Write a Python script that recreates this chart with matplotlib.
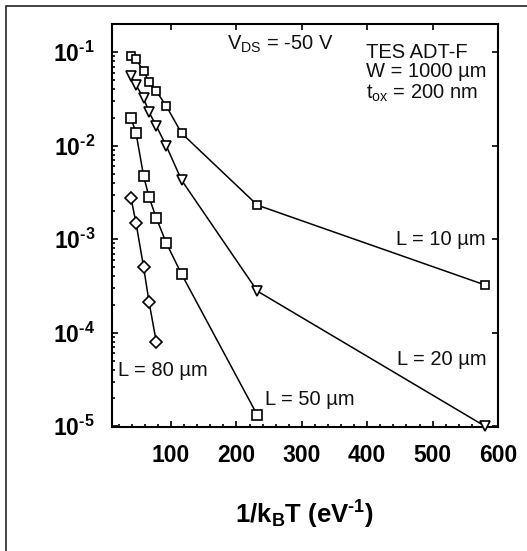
import matplotlib
matplotlib.use("Agg")
import math
import matplotlib.pyplot as plt
from matplotlib.ticker import FixedLocator, MultipleLocator, LogLocator, FuncFormatter, NullFormatter
from matplotlib.patches import Rectangle

# ---- data ----
x_all = [38.7, 46.4, 58.0, 66.3, 77.4, 92.8, 116.0, 232.0, 580.0]
L10_x = x_all
L10_y = [0.0906, 0.084, 0.0626, 0.0478, 0.0383, 0.0264, 0.0136, 0.00231, 0.000324]
L20_x = x_all
L20_y = [0.0553, 0.0444, 0.0322, 0.0228, 0.0162, 0.00989, 0.00428, 0.000278, 1.0e-5]
L50_x = x_all[:8]
L50_y = [0.0197, 0.0136, 0.00472, 0.00281, 0.00168, 0.000906, 0.000423, 1.31e-5]
L80_x = x_all[:5]
L80_y = [0.00275, 0.00148, 0.000501, 0.000212, 7.94e-5]
x_ticks = [100, 200, 300, 400, 500, 600]
y_ticks = [1e-1, 1e-2, 1e-3, 1e-4, 1e-5]

HY = '\u2010'  # short hyphen for exponents

plt.rcParams['font.family'] = ['Liberation Sans', 'DejaVu Sans']
plt.rcParams['mathtext.fontset'] = 'custom'
plt.rcParams['mathtext.rm'] = 'Liberation Sans'
plt.rcParams['mathtext.it'] = 'Liberation Sans:italic'
plt.rcParams['mathtext.bf'] = 'Liberation Sans:bold'

fig = plt.figure(figsize=(5.27, 5.51), dpi=100)
W, H = 527, 551
ax = fig.add_axes([111.6 / W, 1 - 427 / H, (498 - 111.6) / W, (427 - 24) / H])

# figure frame
fig.patches.append(Rectangle((6 / W, -0.05), 1.2, 1 - 6 / H + 0.05, transform=fig.transFigure,
                             fill=False, edgecolor='#222222', linewidth=1.2))

lw = 1.1
ax.plot(L10_x, L10_y, '-s', color='black', lw=lw, ms=5.8, mfc='white', mec='black', mew=1.2, clip_on=False, zorder=3)
ax.plot(L20_x, L20_y, '-v', color='black', lw=lw, ms=7.5, mfc='white', mec='black', mew=1.2, clip_on=False, zorder=3)
ax.plot(L50_x, L50_y, '-s', color='black', lw=lw, ms=7.5, mfc='white', mec='black', mew=1.2, clip_on=False, zorder=3)
ax.plot(L80_x, L80_y, '-D', color='black', lw=lw, ms=6.0, mfc='white', mec='black', mew=1.2, clip_on=False, zorder=3)

ax.set_yscale('log')
ax.set_xlim(9, 600)
ax.set_ylim(9.8e-6, 0.2)

ax.xaxis.set_major_locator(FixedLocator(x_ticks))
ax.xaxis.set_minor_locator(MultipleLocator(20))
ax.yaxis.set_major_locator(FixedLocator(y_ticks))
ax.yaxis.set_minor_locator(LogLocator(base=10, subs=range(2, 10)))
ax.yaxis.set_minor_formatter(NullFormatter())

def yfmt(v, pos):
    e = int(round(math.log10(v)))
    return r'$\mathbf{10^{%s%d}}$' % (HY, abs(e))
ax.yaxis.set_major_formatter(FuncFormatter(yfmt))

for s in ax.spines.values():
    s.set_linewidth(1.5)

ax.tick_params(which='both', direction='in', top=True, right=True, width=1.2)
ax.tick_params(which='major', length=4.5)
ax.tick_params(which='minor', length=2.5, top=False, right=False)
ax.tick_params(axis='x', which='major', pad=12, labelsize=16.5)
ax.tick_params(axis='y', which='major', pad=12, labelsize=16.5)
for lab in ax.get_xticklabels():
    lab.set_fontweight('bold')

ax.set_xlabel(r'$\mathbf{1/k_{B}T\ (eV^{%s1})}$' % HY, fontsize=18.5, labelpad=23)

tk = dict(fontsize=14.5, family=['Liberation Sans', 'DejaVu Sans'], color='#111111')
ax.text(185.8, 0.121, r'V$_{\mathrm{DS}}$ = -50 V', va='center', ha='left', **tk)
ax.text(397.6, 0.100, 'TES ADT-F', va='center', ha='left', **tk)
ax.text(397.6, 0.0622, 'W = 1000 µm', va='center', ha='left', **tk)
ax.text(397.6, 0.0362, r't$_{\mathrm{ox}}$ = 200 nm', va='center', ha='left', **tk)
ax.text(580.6, 1.0e-3, 'L = 10 µm', va='center', ha='right', **tk)
ax.text(582.0, 5.2e-5, 'L = 20 µm', va='center', ha='right', **tk)
ax.text(243.7, 1.95e-5, 'L = 50 µm', va='center', ha='left', **tk)
ax.text(18.1, 3.9e-5, 'L = 80 µm', va='center', ha='left', **tk)

fig.savefig('out.png', dpi=100)
